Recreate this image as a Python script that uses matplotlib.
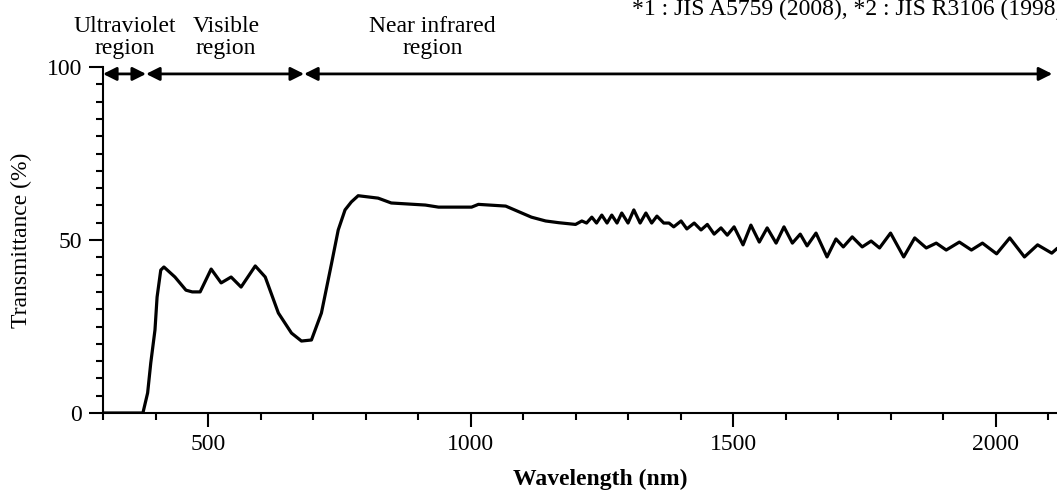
import matplotlib.pyplot as plt
from matplotlib.ticker import MultipleLocator

# spectral transmittance
wavelength = [300, 376, 385, 391, 399, 403, 410, 416, 437, 458, 470, 485, 506, 525, 544, 563, 590, 609, 634, 659, 678,
              697, 716, 735, 748, 761, 773, 786, 824, 849, 914, 939, 1002, 1015, 1067, 1116, 1143, 1168, 1200,
              1212, 1221, 1231, 1240, 1250, 1260, 1269, 1279, 1288, 1300, 1311, 1323, 1334, 1345, 1355, 1368,
              1378, 1387, 1401, 1412, 1426, 1439, 1451, 1464, 1477, 1489, 1502, 1519, 1534, 1550, 1565, 1582,
              1597, 1613, 1628, 1641, 1658, 1679, 1696, 1710, 1727, 1746, 1763, 1779, 1800, 1825, 1846, 1868,
              1887, 1906, 1931, 1954, 1975, 2002, 2027, 2055, 2080, 2107, 2116]
transmittance = [0, 0, 5.8, 14.5, 24, 33.5, 41.3, 42.2, 39.3, 35.5, 35, 35, 41.6, 37.6, 39.3, 36.4, 42.5, 39.3, 28.9, 23.1, 20.8,
                 21.1, 28.9, 43, 52.9, 58.7, 61, 62.8, 62.1, 60.7, 60.1, 59.5, 59.5, 60.3, 59.8, 56.6, 55.5, 55, 54.5,
                 55.5, 54.9, 56.6, 54.9, 57.2, 54.9, 57.2, 54.9, 57.8, 54.9, 58.7, 54.9, 57.8, 54.9, 56.9, 54.9,
                 54.9, 53.8, 55.5, 53.2, 54.9, 52.9, 54.5, 51.7, 53.5, 51.4, 53.8, 48.6, 54.3, 49.4, 53.5, 49.1,
                 53.8, 49.1, 51.7, 48.3, 52, 45.1, 50.3, 48, 50.9, 48, 49.7, 47.7, 52, 45.1, 50.6, 47.7,
                 49.1, 47.1, 49.4, 47.1, 49.1, 46, 50.6, 45.1, 48.6, 46.2, 47.4]

# region bounds (nm) and labels
region_edges = [300, 382, 683, 2108]
region_labels = ["Ultraviolet\nregion", "Visible\nregion", "Near infrared\nregion"]
region_label_x = [342, 534, 928]
note = "*1 : JIS A5759 (2008), *2 : JIS R3106 (1998)"

plt.rcParams['font.family'] = ['Liberation Serif', 'DejaVu Serif']
fs = 17

fig = plt.figure(figsize=(10.57, 4.91), dpi=100)
ax = fig.add_axes([103 / 1057, 1 - 413 / 491, 1 - 103 / 1057, (413 - 67) / 491])

ax.plot(wavelength, transmittance, color="black", lw=2.3)

ax.set_xlim(300, 2117)
ax.set_ylim(0, 100)
ax.set_xticks([500, 1000, 1500, 2000])
ax.xaxis.set_minor_locator(MultipleLocator(100))
ax.set_yticks([0, 50, 100])
ax.yaxis.set_minor_locator(MultipleLocator(5))
ax.tick_params(which="major", length=10, width=1.5, labelsize=fs, pad=5)
ax.tick_params(which="minor", length=5, width=1.5)

for s in ["top", "right"]:
    ax.spines[s].set_visible(False)
for s in ["left", "bottom"]:
    ax.spines[s].set_linewidth(1.5)

ax.set_xlabel("Wavelength (nm)", fontsize=fs, fontweight="bold")
ax.xaxis.set_label_coords(0.521, -0.16)
ax.set_ylabel("Transmittance (%)", fontsize=fs)
ax.yaxis.set_label_coords(-0.074, 0.5)

# region arrows
for a, b in zip(region_edges[:-1], region_edges[1:]):
    ax.annotate("", xy=(b, 98), xytext=(a, 98), annotation_clip=False,
                arrowprops=dict(arrowstyle="<|-|>", color="black", lw=2,
                                mutation_scale=20, shrinkA=0, shrinkB=0))
for lx, lab in zip(region_label_x, region_labels):
    ax.text(lx, 108.5, lab, fontsize=fs, ha="center", va="center",
            multialignment="center", linespacing=1.1, clip_on=False)

fig.text(632 / 1057, 1 - 9 / 491, note, fontsize=fs, ha="left", va="center")

fig.savefig("out.png", dpi=100)
